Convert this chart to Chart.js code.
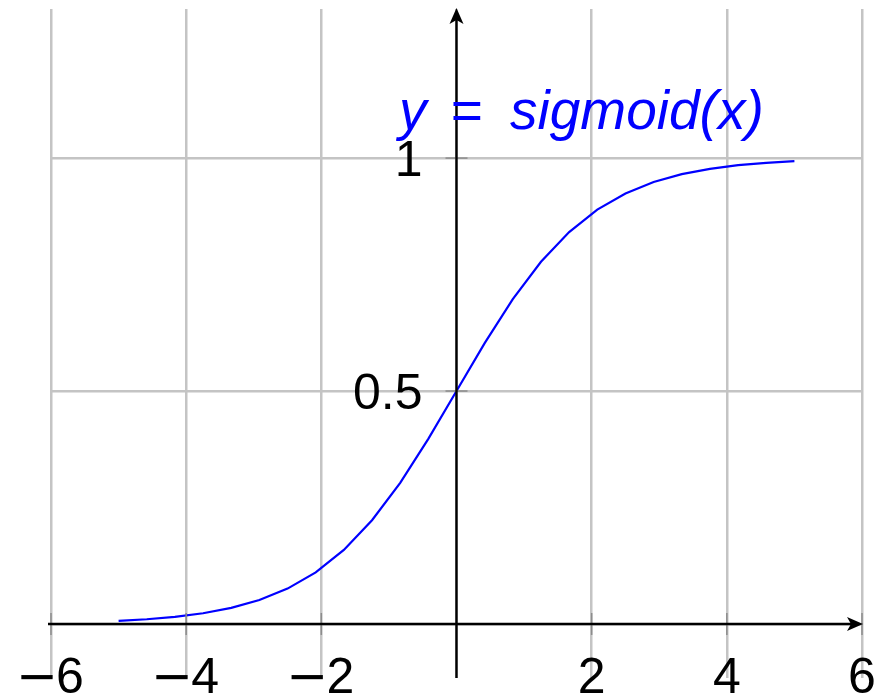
<!DOCTYPE html>
<html>
<head>
<meta charset="utf-8">
<script src="https://cdn.jsdelivr.net/npm/chart.js@4.4.1/dist/chart.umd.min.js"></script>
<style>
  html, body { margin: 0; padding: 0; background: #fff; }
</style>
</head>
<body>
<canvas id="myChart" width="879" height="696"></canvas>
<script>
// samples of the curve (25 samples from -5 to 5)
const xValues = [
	-5, -4.583, -4.167, -3.75, -3.333, -2.917, -2.5, -2.083, -1.667, -1.25, -0.833, -0.417,
	0, 0.417, 0.833, 1.25, 1.667, 2.083, 2.5, 2.917, 3.333, 3.75, 4.167, 4.583, 5,
];
const yValues = [
	0.0067, 0.0101, 0.0153, 0.023, 0.0344, 0.0513, 0.0759, 0.1107, 0.1589, 0.2227, 0.3029, 0.3973,
	0.5, 0.6027, 0.6971, 0.7773, 0.8411, 0.8893, 0.9241, 0.9487, 0.9656, 0.977, 0.9847, 0.9899, 0.9933,
];
const xTicks = [-6, -4, -2, 0, 2, 4, 6];
const yTicks = [0, 0.5, 1];
const xLabels = ["−6", "−4", "−2", "", "2", "4", "6"];
const yLabels = ["", "0.5", "1"];
const curveLabel = ["y", "=", "sigmoid(x)"];

const points = xValues.map((x, i) => ({ x: x, y: yValues[i] }));

const digitFont = "50px 'Liberation Sans', Arial, sans-serif";
const minusFont = "50px 'DejaVu Sans', sans-serif";

// axis lines with arrows, tick marks, tick labels and the curve label
const axesPlugin = {
	id: "axesPlugin",
	afterDatasetsDraw(chart) {
		const c = chart.ctx;
		const a = chart.chartArea;
		const xs = chart.scales.x;
		const ys = chart.scales.y;
		const x0 = xs.getPixelForValue(0);
		const y0 = ys.getPixelForValue(0);

		c.save();
		// small tick marks
		c.strokeStyle = "#8c8c8c";
		c.lineWidth = 1.5;
		yTicks.forEach((v) => {
			if (v === 0) return;
			const py = ys.getPixelForValue(v);
			c.beginPath();
			c.moveTo(x0 - 11, py);
			c.lineTo(x0 + 11, py);
			c.stroke();
		});
		xTicks.forEach((v) => {
			if (v === 0) return;
			const px = xs.getPixelForValue(v);
			c.beginPath();
			c.moveTo(px, y0 - 11);
			c.lineTo(px, y0 + 11);
			c.stroke();
		});

		// axes
		c.strokeStyle = "#000";
		c.fillStyle = "#000";
		c.lineWidth = 2.4;
		c.beginPath();
		c.moveTo(a.left - 3, y0);
		c.lineTo(a.right - 6, y0);
		c.moveTo(x0, a.bottom);
		c.lineTo(x0, a.top + 6);
		c.stroke();
		// arrow heads
		c.beginPath();
		c.moveTo(a.right + 1, y0);
		c.lineTo(a.right - 15, y0 - 7);
		c.lineTo(a.right - 11, y0);
		c.lineTo(a.right - 15, y0 + 7);
		c.closePath();
		c.fill();
		c.beginPath();
		c.moveTo(x0, a.top - 1);
		c.lineTo(x0 - 7, a.top + 15);
		c.lineTo(x0, a.top + 11);
		c.lineTo(x0 + 7, a.top + 15);
		c.closePath();
		c.fill();

		// tick labels (minus sign drawn a bit longer, like the TeX one)
		c.textBaseline = "alphabetic";
		c.textAlign = "left";
		xTicks.forEach((v, i) => {
			const lab = xLabels[i];
			if (!lab) return;
			const px = xs.getPixelForValue(v);
			const neg = lab[0] === "−";
			const digits = neg ? lab.slice(1) : lab;
			c.font = digitFont;
			const dw = c.measureText(digits).width;
			c.font = minusFont;
			const mw = neg ? c.measureText("−").width - 4 : 0;
			const left = px - (mw + dw) / 2;
			if (neg) c.fillText("−", left - 2, y0 + 69);
			c.font = digitFont;
			c.fillText(digits, left + mw, y0 + 69);
		});
		c.font = digitFont;
		c.textAlign = "right";
		yTicks.forEach((v, i) => {
			if (!yLabels[i]) return;
			c.fillText(yLabels[i], x0 - 34, ys.getPixelForValue(v) + 18);
		});

		// curve label
		c.fillStyle = "#0000ff";
		c.font = "italic 55px 'Liberation Sans', Arial, sans-serif";
		c.textAlign = "left";
		const lx = xs.getPixelForValue(-0.85);
		const ly = ys.getPixelForValue(1.062);
		c.fillText(curveLabel[0], lx, ly);
		c.fillText(curveLabel[1], lx + 51, ly);
		c.fillText(curveLabel[2], lx + 111, ly);
		c.restore();
	},
};

const ctx = document.getElementById("myChart");
const myChart = new Chart(ctx, {
	type: "line",
	data: {
		datasets: [
			{
				label: "sigmoid",
				data: points,
				borderColor: "#0000ff",
				borderWidth: 2.2,
				pointRadius: 0,
				tension: 0,
				fill: false,
			},
		],
	},
	options: {
		responsive: false,
		animation: false,
		layout: {
			padding: { left: 51, right: 17, top: 9, bottom: 18 },
		},
		plugins: {
			legend: false,
			title: false,
			tooltip: { enabled: false },
		},
		scales: {
			x: {
				type: "linear",
				min: -6,
				max: 6,
				afterBuildTicks: (axis) => {
					axis.ticks = xTicks.map((v) => ({ value: v }));
				},
				ticks: { display: false },
				border: { display: false },
				grid: { color: "#c4c4c4", lineWidth: 2.5, drawTicks: false },
			},
			y: {
				type: "linear",
				min: -0.116,
				max: 1.32,
				afterBuildTicks: (axis) => {
					axis.ticks = yTicks.map((v) => ({ value: v }));
				},
				ticks: { display: false },
				border: { display: false },
				grid: { color: "#c4c4c4", lineWidth: 2.5, drawTicks: false },
			},
		},
	},
	plugins: [axesPlugin],
});
</script>
</body>
</html>
